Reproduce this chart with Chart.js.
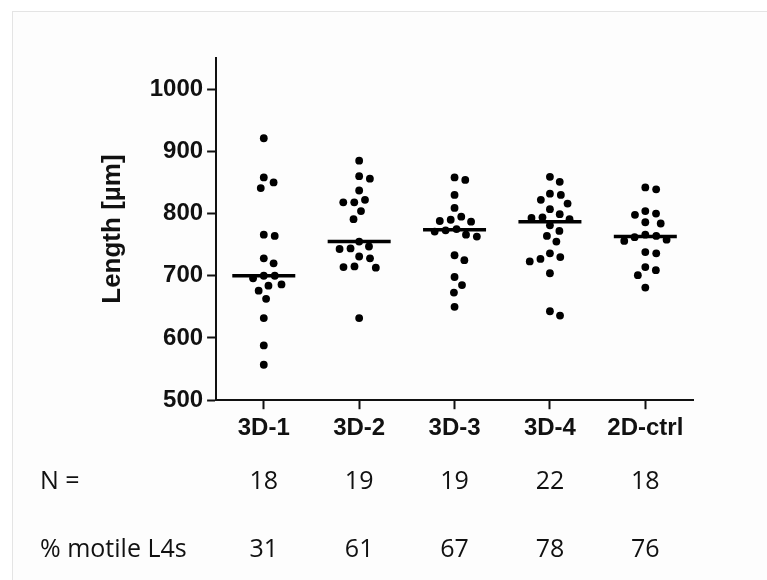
<!DOCTYPE html>
<html>
<head>
<meta charset="utf-8">
<script src="https://cdn.jsdelivr.net/npm/chart.js@4.4.1/dist/chart.umd.min.js"></script>
<style>
  html, body { margin: 0; padding: 0; background: #fff; overflow: hidden; }
  #frame {
    position: absolute; left: 12px; top: 11px; right: 0; bottom: 0;
    border-top: 1px solid #e4e4e4; border-left: 1px solid #e4e4e4;
    background: #fdfdfd;
  }
  #wrap { position: absolute; left: 0; top: 0; width: 767px; height: 584px; }
</style>
</head>
<body>
<div id="frame"></div>
<div id="wrap"><canvas id="chart"></canvas></div>
<script>
// values (length in µm per larva)
var categories = ["3D-1", "3D-2", "3D-3", "3D-4", "2D-ctrl"];
var len3D1 = [921, 858, 850, 841, 766, 764, 728, 720, 700, 700, 696, 686, 684, 676, 663, 632, 588, 557];
var len3D2 = [885, 860, 856, 837, 822, 818, 818, 804, 791, 755, 747, 744, 743, 731, 728, 715, 714, 713, 632];
var len3D3 = [858, 854, 830, 809, 795, 790, 788, 787, 775, 773, 771, 766, 763, 733, 725, 698, 685, 673, 650];
var len3D4 = [859, 851, 832, 830, 822, 816, 807, 799, 794, 793, 791, 781, 772, 764, 755, 736, 730, 727, 723, 704, 643, 636];
var len2D = [842, 839, 804, 800, 798, 786, 784, 766, 764, 762, 758, 756, 738, 736, 714, 709, 701, 681];
var medians = [700, 755, 774, 787, 763];
var nCounts = [18, 19, 19, 22, 18];
var motilePct = [31, 61, 67, 78, 76];
var yTicks = [500, 600, 700, 800, 900, 1000];
var rowLabels = ["N =", "% motile L4s"];

var groups = [len3D1, len3D2, len3D3, len3D4, len2D];

var DOT_GAP = 11; // min centre distance between dots, px
var boldFont = { family: "'Liberation Sans', Arial, sans-serif", size: 24, weight: "bold" };
var rowFont = { family: "'Open Sans', sans-serif", size: 25 };

// spread dots sideways so they don't overlap (simple greedy beeswarm)
function swarm(chart) {
  var xs = chart.scales.x, ys = chart.scales.y;
  var unit = xs.getPixelForValue(1) - xs.getPixelForValue(0);
  var pts = [];
  groups.forEach(function (vals, gi) {
    var placed = [];
    vals.slice().sort(function (a, b) { return b - a; }).forEach(function (v) {
      var py = ys.getPixelForValue(v);
      var cands = [0];
      placed.forEach(function (p) {
        var dy = Math.abs(p.py - py);
        if (dy < DOT_GAP) {
          var dx = Math.sqrt(DOT_GAP * DOT_GAP - dy * dy);
          cands.push(p.px + dx, p.px - dx);
        }
      });
      cands.sort(function (a, b) { return Math.abs(a) - Math.abs(b); });
      var px = cands.find(function (c) {
        return placed.every(function (p) {
          var ddx = p.px - c, ddy = p.py - py;
          return ddx * ddx + ddy * ddy >= DOT_GAP * DOT_GAP - 0.01;
        });
      });
      placed.push({ px: px, py: py });
      pts.push({ x: gi + px / unit, y: v });
    });
  });
  chart.data.datasets[0].data = pts;
  chart.update("none");
}

var rowLabelPlugin = {
  id: "rowLabels",
  afterDraw: function (chart) {
    var ctx = chart.ctx;
    ["xN", "xP"].forEach(function (id, i) {
      var s = chart.scales[id];
      ctx.save();
      ctx.font = rowFont.size + "px " + rowFont.family;
      ctx.fillStyle = "#111";
      ctx.textAlign = "left";
      ctx.textBaseline = "middle";
      ctx.fillText(rowLabels[i], 40, (s.top + s.bottom) / 2);
      ctx.restore();
    });
  }
};

var chart = new Chart(document.getElementById("chart"), {
  type: "scatter",
  data: {
    datasets: [
      {
        label: "Length",
        data: groups.reduce(function (acc, vals, gi) {
          return acc.concat(vals.map(function (v) { return { x: gi, y: v }; }));
        }, []),
        pointRadius: 3.9,
        pointBackgroundColor: "#000",
        pointBorderWidth: 0,
        showLine: false
      },
      {
        label: "Median",
        data: medians.map(function (m, i) { return { x: i, y: m }; }),
        pointStyle: "line",
        pointRadius: 31.5,
        pointBorderWidth: 3.5,
        pointBorderColor: "#000",
        showLine: false
      }
    ]
  },
  options: {
    responsive: true,
    maintainAspectRatio: false,
    animation: false,
    events: [],
    layout: { padding: { left: 94.5, right: 74, top: 58, bottom: 0 } },
    plugins: { legend: { display: false }, tooltip: { enabled: false } },
    scales: {
      x: {
        type: "linear",
        position: "bottom",
        weight: 0,
        min: -0.5,
        max: 4.5,
        afterBuildTicks: function (axis) {
          axis.ticks = categories.map(function (c, i) { return { value: i }; });
        },
        grid: { drawOnChartArea: false, tickLength: 9, tickWidth: 2, tickColor: "#111" },
        border: { color: "#111", width: 2 },
        ticks: {
          font: boldFont, color: "#111", padding: 5, maxRotation: 0, autoSkip: false,
          callback: function (v) { return categories[v]; }
        }
      },
      xN: {
        type: "category",
        labels: nCounts.map(String),
        position: "bottom",
        weight: 1,
        offset: true,
        grid: { display: false, drawTicks: false },
        border: { display: false },
        ticks: { font: rowFont, color: "#111", padding: 19, maxRotation: 0, autoSkip: false }
      },
      xP: {
        type: "category",
        labels: motilePct.map(String),
        position: "bottom",
        weight: 2,
        offset: true,
        grid: { display: false, drawTicks: false },
        border: { display: false },
        ticks: { font: rowFont, color: "#111", padding: 19, maxRotation: 0, autoSkip: false }
      },
      y: {
        min: 500,
        max: 1050,
        afterBuildTicks: function (axis) {
          axis.ticks = yTicks.map(function (v) { return { value: v }; });
        },
        grid: { drawOnChartArea: false, tickLength: 9, tickWidth: 2, tickColor: "#111" },
        border: { color: "#111", width: 2 },
        ticks: {
          font: boldFont, color: "#111", padding: 4,
          callback: function (v) { return String(v); }
        },
        title: {
          display: true,
          text: "Length [µm]",
          font: { family: "'Liberation Sans', Arial, sans-serif", size: 26, weight: "bold" },
          color: "#111",
          padding: { top: 3, bottom: 17 }
        }
      }
    }
  },
  plugins: [rowLabelPlugin]
});

swarm(chart);
</script>
</body>
</html>
